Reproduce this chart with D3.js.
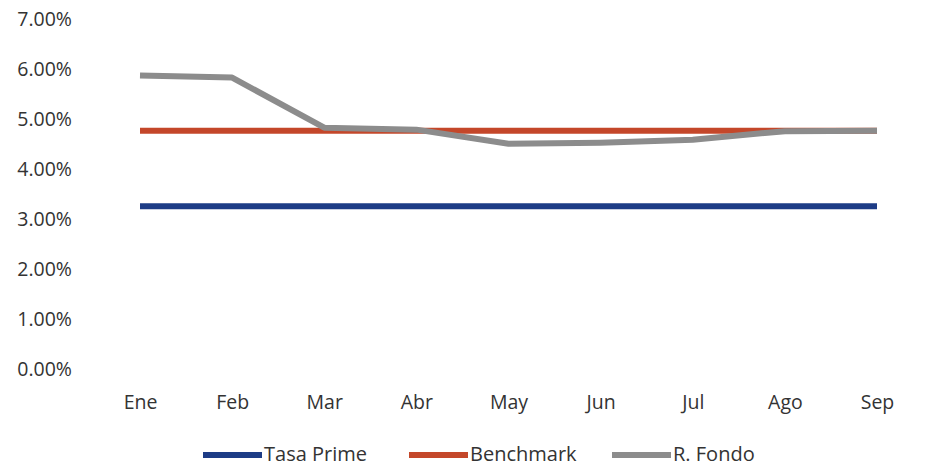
<!DOCTYPE html>
<html>
<head>
<meta charset="utf-8">
<script src="https://cdn.jsdelivr.net/npm/d3@7"></script>
<style>
  body { margin: 0; background: #fff; }
  svg { display: block; }
</style>
</head>
<body>
<svg id="chart"></svg>
<script>
const months = ['Ene', 'Feb', 'Mar', 'Abr', 'May', 'Jun', 'Jul', 'Ago', 'Sep'];
const tasaPrime = [3.26, 3.26, 3.26, 3.26, 3.26, 3.26, 3.26, 3.26, 3.26];
const benchmark = [4.77, 4.77, 4.77, 4.77, 4.77, 4.77, 4.77, 4.77, 4.77];
const rFondo = [5.87, 5.83, 4.83, 4.79, 4.51, 4.53, 4.59, 4.76, 4.77];
const yTicks = [0, 1, 2, 3, 4, 5, 6, 7];

const series = [
  { name: 'Tasa Prime', values: tasaPrime, color: '#1d3c86' },
  { name: 'Benchmark', values: benchmark, color: '#c4472a' },
  { name: 'R. Fondo', values: rFondo, color: '#8c8c8c' }
];

const width = 948, height = 466;
const svg = d3.select('#chart').attr('width', width).attr('height', height);

const x = d3.scalePoint().domain(months).range([140, 877]);
const y = d3.scaleLinear().domain([0, 7]).range([369.5, 19]);

// y axis labels
svg.append('g')
  .attr('transform', 'translate(72,0)')
  .call(d3.axisLeft(y).tickValues(yTicks).tickSize(0).tickPadding(0)
    .tickFormat(d => d3.format('.2f')(d) + '%'))
  .call(g => g.select('.domain').remove())
  .call(g => g.selectAll('text')
    .style('font-family', '"Open Sans", sans-serif')
    .style('font-size', '19.5px')
    .style('fill', '#333'));

// x axis labels
svg.append('g')
  .attr('transform', 'translate(0,395)')
  .call(d3.axisBottom(x).tickSize(0).tickPadding(0))
  .call(g => g.select('.domain').remove())
  .call(g => g.selectAll('text')
    .style('font-family', '"Open Sans", sans-serif')
    .style('font-size', '19.5px')
    .style('fill', '#333'));

const line = d3.line()
  .x((d, i) => x(months[i]))
  .y(d => y(d));

svg.append('g').selectAll('path')
  .data(series)
  .join('path')
  .attr('fill', 'none')
  .attr('stroke', d => d.color)
  .attr('stroke-width', 6)
  .attr('stroke-linejoin', 'round')
  .attr('d', d => line(d.values));

// legend
const legendX = [203, 409, 612];
const legend = svg.append('g').attr('transform', 'translate(0,455)');
const items = legend.selectAll('g')
  .data(series)
  .join('g')
  .attr('transform', (d, i) => `translate(${legendX[i]},0)`);
items.append('line')
  .attr('x1', 0).attr('x2', 59)
  .attr('stroke', d => d.color)
  .attr('stroke-width', 6);
items.append('text')
  .attr('x', 61)
  .attr('y', 6)
  .style('font-family', '"Open Sans", sans-serif')
  .style('font-size', '20px')
  .style('fill', '#333')
  .text(d => d.name);
</script>
</body>
</html>
